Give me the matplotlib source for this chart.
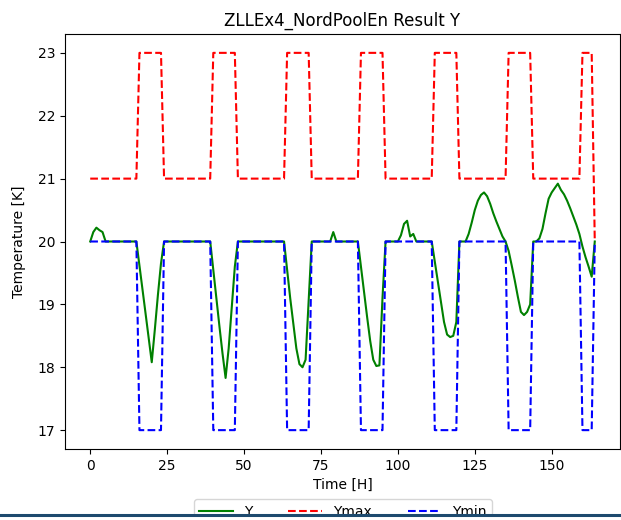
import matplotlib
matplotlib.use("Agg")
import matplotlib.pyplot as plt
from matplotlib.patches import Rectangle
from matplotlib.lines import Line2D
import numpy as np

# hourly time axis, 0..164 h
time_h = list(range(165))

# simulated temperature, one row per day (24 h)
y_vals = [
    20.0, 20.15, 20.22, 20.18, 20.15, 20.0, 20.0, 20.0, 20.0, 20.0, 20.0, 20.0,
    20.0, 20.0, 20.0, 20.0, 19.62, 19.23, 18.85, 18.46, 18.08, 18.6, 19.15, 19.65,
    20.0, 20.0, 20.0, 20.0, 20.0, 20.0, 20.0, 20.0, 20.0, 20.0, 20.0, 20.0,
    20.0, 20.0, 20.0, 20.0, 19.55, 19.1, 18.65, 18.22, 17.83, 18.3, 18.95, 19.6,
    20.0, 20.0, 20.0, 20.0, 20.0, 20.0, 20.0, 20.0, 20.0, 20.0, 20.0, 20.0,
    20.0, 20.0, 20.0, 20.0, 19.55, 19.1, 18.7, 18.3, 18.05, 18.0, 18.12, 19.05,
    20.0, 20.0, 20.0, 20.0, 20.0, 20.0, 20.0, 20.15, 20.0, 20.0, 20.0, 20.0,
    20.0, 20.0, 20.0, 20.0, 19.6, 19.2, 18.8, 18.42, 18.12, 18.02, 18.03, 19.1,
    20.0, 20.0, 20.0, 20.0, 20.0, 20.1, 20.28, 20.33, 20.08, 20.12, 20.0, 20.0,
    20.0, 20.0, 20.0, 20.0, 19.68, 19.37, 19.05, 18.72, 18.52, 18.48, 18.5, 18.72,
    20.0, 20.0, 20.0, 20.12, 20.3, 20.5, 20.65, 20.74, 20.78, 20.72, 20.6, 20.45,
    20.32, 20.2, 20.08, 20.0, 19.85, 19.62, 19.38, 19.12, 18.88, 18.83, 18.88, 19.0,
    20.0, 20.0, 20.05, 20.2, 20.45, 20.68, 20.78, 20.85, 20.92, 20.82, 20.75, 20.65,
    20.53, 20.4, 20.27, 20.12, 19.92, 19.75, 19.6, 19.44, 20.0,
]

y_max = [
    21, 21, 21, 21, 21, 21, 21, 21, 21, 21, 21, 21, 21, 21, 21, 21, 23, 23, 23, 23, 23, 23, 23, 23,
    21, 21, 21, 21, 21, 21, 21, 21, 21, 21, 21, 21, 21, 21, 21, 21, 23, 23, 23, 23, 23, 23, 23, 23,
    21, 21, 21, 21, 21, 21, 21, 21, 21, 21, 21, 21, 21, 21, 21, 21, 23, 23, 23, 23, 23, 23, 23, 23,
    21, 21, 21, 21, 21, 21, 21, 21, 21, 21, 21, 21, 21, 21, 21, 21, 23, 23, 23, 23, 23, 23, 23, 23,
    21, 21, 21, 21, 21, 21, 21, 21, 21, 21, 21, 21, 21, 21, 21, 21, 23, 23, 23, 23, 23, 23, 23, 23,
    21, 21, 21, 21, 21, 21, 21, 21, 21, 21, 21, 21, 21, 21, 21, 21, 23, 23, 23, 23, 23, 23, 23, 23,
    21, 21, 21, 21, 21, 21, 21, 21, 21, 21, 21, 21, 21, 21, 21, 21, 23, 23, 23, 23, 20,
]

y_min = [
    20, 20, 20, 20, 20, 20, 20, 20, 20, 20, 20, 20, 20, 20, 20, 20, 17, 17, 17, 17, 17, 17, 17, 17,
    20, 20, 20, 20, 20, 20, 20, 20, 20, 20, 20, 20, 20, 20, 20, 20, 17, 17, 17, 17, 17, 17, 17, 17,
    20, 20, 20, 20, 20, 20, 20, 20, 20, 20, 20, 20, 20, 20, 20, 20, 17, 17, 17, 17, 17, 17, 17, 17,
    20, 20, 20, 20, 20, 20, 20, 20, 20, 20, 20, 20, 20, 20, 20, 20, 17, 17, 17, 17, 17, 17, 17, 17,
    20, 20, 20, 20, 20, 20, 20, 20, 20, 20, 20, 20, 20, 20, 20, 20, 17, 17, 17, 17, 17, 17, 17, 17,
    20, 20, 20, 20, 20, 20, 20, 20, 20, 20, 20, 20, 20, 20, 20, 20, 17, 17, 17, 17, 17, 17, 17, 17,
    20, 20, 20, 20, 20, 20, 20, 20, 20, 20, 20, 20, 20, 20, 20, 20, 17, 17, 17, 17, 20,
]

W, H = 621, 520
fig = plt.figure(figsize=(W / 100, H / 100), dpi=100)
ax = fig.add_axes([65 / W, 1 - 449 / H, (620 - 65) / W, (449 - 34) / H])

ax.plot(time_h, y_vals, color="green", linestyle="-", label="Y")
ax.plot(time_h, y_max, color="red", linestyle="--", label="Ymax")
ax.plot(time_h, y_min, color="blue", linestyle="--", label="Ymin")

ax.set_title("ZLLEx4_NordPoolEn Result Y")
ax.set_xlabel("Time [H]")
ax.set_ylabel("Temperature [K]", labelpad=8)
ax.set_xticks([0, 25, 50, 75, 100, 125, 150])

fig.legend(loc="upper center", bbox_to_anchor=(343 / W, 1 - 499 / H),
           bbox_transform=fig.transFigure, ncol=3, handlelength=2.4,
           columnspacing=2.6, borderaxespad=0)

# screenshot edge: dark rule and white strip hiding the lower half of the legend
fig.patches.append(Rectangle((0, 0), 1, (H - 515) / H, transform=fig.transFigure,
                             facecolor="white", edgecolor="none", zorder=20))
fig.lines.append(Line2D([0, 1], [(H - 514.5) / H] * 2, transform=fig.transFigure,
                        color="#1d4a6e", linewidth=2.2, zorder=21))

fig.savefig("out.png", dpi=100)
